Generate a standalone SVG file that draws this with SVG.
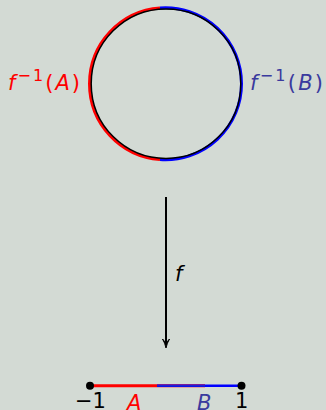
<svg xmlns="http://www.w3.org/2000/svg" width="326" height="410" viewBox="0 0 326 410">
<style>
text{font-family:"DejaVu Sans","Liberation Sans",sans-serif;font-size:21px}
.it{font-style:italic}
.sup{font-size:16px}
.red{fill:#ff0000}
.blu{fill:#3a3a9e}
.blk{fill:#000}
</style>
<rect width="326" height="410" fill="#d3dad4"/>
<g id="circle">
<path d="M160,7.9 A76,76 0 0 0 160,159.5" fill="none" stroke="#ff0000" stroke-width="3"/>
<path d="M160,7.9 A76,76 0 1 1 160,159.5" fill="none" stroke="#0000ff" stroke-width="3"/>
<circle cx="166" cy="83.7" r="74.8" fill="none" stroke="#000" stroke-width="1.5"/>
</g>
<g id="labelA"><text x="8" y="90" class="red" textLength="72" lengthAdjust="spacing"><tspan class="it">f</tspan><tspan class="sup" dy="-9">−1</tspan><tspan dy="9">(</tspan><tspan class="it">A</tspan>)</text></g>
<g id="labelB"><text x="250" y="90" class="blu" textLength="73" lengthAdjust="spacing"><tspan class="it">f</tspan><tspan class="sup" dy="-9">−1</tspan><tspan dy="9">(</tspan><tspan class="it">B</tspan>)</text></g>
<g id="connectors">
<line x1="166" y1="197" x2="166" y2="345" stroke="#000" stroke-width="2"/>
<path d="M162.5,339 Q165,343 166,348 Q167,343 169.5,339 Q167,341 166,345 Q165,341 162.5,339Z" fill="#000" stroke="#000" stroke-width="1"/>
<text x="175" y="281" class="it blk">f</text>
</g>
<g id="segment">
<line x1="90" y1="385.7" x2="205" y2="385.7" stroke="#ff0000" stroke-width="3"/>
<line x1="157" y1="385.7" x2="241.5" y2="385.7" stroke="#0000ff" stroke-width="2.5"/>
<line x1="157" y1="385.7" x2="205" y2="385.7" stroke="#2020d0" stroke-width="1.5"/>
<circle cx="90" cy="385.7" r="4" fill="#000"/>
<circle cx="241.5" cy="385.7" r="4" fill="#000"/>
<text x="75" y="408" class="blk">−1</text>
<text x="127" y="410" class="it red">A</text>
<text x="197" y="410" class="it blu">B</text>
<text x="235" y="408" class="blk">1</text>
</g>
</svg>
